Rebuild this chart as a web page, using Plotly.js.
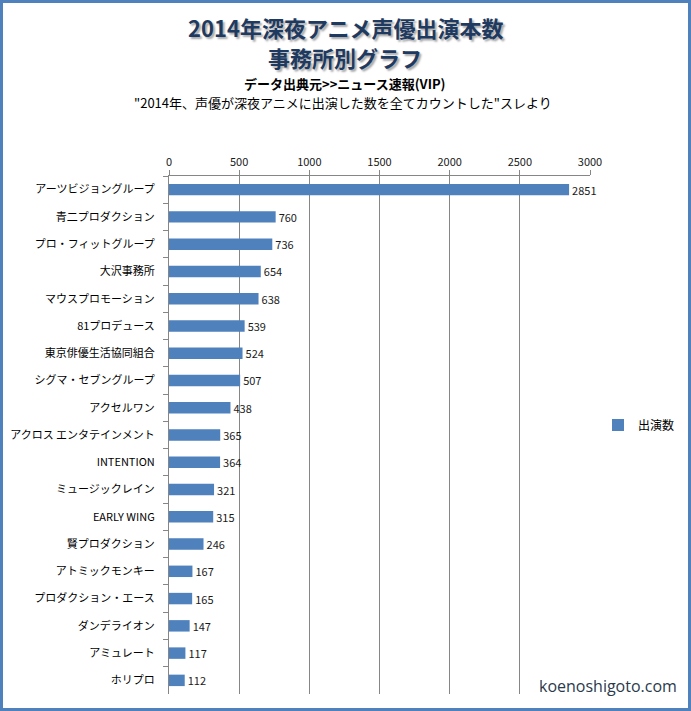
<!DOCTYPE html>
<html><head><meta charset="utf-8">
<script src="https://cdn.plot.ly/plotly-3.0.1.min.js"></script>
<style>
html,body{margin:0;padding:0;background:#fff;}
#wrap{position:relative;width:691px;height:711px;}
#chart{position:absolute;left:0;top:0;width:691px;height:711px;}
#frame{position:absolute;left:0;top:0;width:691px;height:711px;box-sizing:border-box;border:3px solid #4F81BD;pointer-events:none;}
</style></head>
<body>
<div id="wrap"><div id="chart"></div><div id="frame"></div></div>
<script>
const categories = ["アーツビジョングループ","青二プロダクション","プロ・フィットグループ","大沢事務所","マウスプロモーション","81プロデュース","東京俳優生活協同組合","シグマ・セブングループ","アクセルワン","アクロス エンタテインメント","INTENTION","ミュージックレイン","EARLY WING","賢プロダクション","アトミックモンキー","プロダクション・エース","ダンデライオン","アミュレート","ホリプロ"];
const counts = [2851,760,736,654,638,539,524,507,438,365,364,321,315,246,167,165,147,117,112];
const seriesName = "出演数";
const xTicks = [0,500,1000,1500,2000,2500,3000];

const jp = '"Noto Sans CJK JP", "Noto Sans", sans-serif';
const trace = {
  type: 'bar', orientation: 'h', name: seriesName,
  x: counts, y: categories,
  marker: {color: '#4F81BD'},
  width: 0.42,
  text: counts.map(String), textposition: 'outside', cliponaxis: false,
  constraintext: 'none',
  textfont: {family: jp, size: 11, color: '#1a1a1a'},
  showlegend: true, hoverinfo: 'none'
};
const L=169, R=590, T=176, B=694;
const W=691, H=711;
const pw=R-L, ph=B-T;
const px = x => (x-L)/pw;
const py = y => (B-y)/ph;
const layout = {
  width: W, height: H,
  margin: {l: L, r: W-R, t: T, b: H-B, pad: 0, autoexpand: false},
  paper_bgcolor: '#fff', plot_bgcolor: '#fff',
  font: {family: jp, color: '#000'},
  bargap: 0.5,
  xaxis: {
    side: 'top', range: [0, 3000], tickvals: xTicks, ticktext: xTicks.map(String),
    showgrid: true, gridcolor: '#868686', gridwidth: 1,
    showline: true, linecolor: '#868686', linewidth: 1,
    ticks: 'outside', ticklen: 5, tickcolor: '#868686',
    tickfont: {family: jp, size: 11, color: '#1a1a1a'},
    zeroline: false, fixedrange: true, automargin: false
  },
  yaxis: {
    autorange: 'reversed', type: 'category',
    showline: true, linecolor: '#868686', linewidth: 1,
    ticks: 'outside', ticklen: 5, tickcolor: '#868686', tickson: 'boundaries',
    ticklabelstandoff: 11,
    tickfont: {family: jp, size: 11, color: '#000'},
    showgrid: false, zeroline: false, fixedrange: true, automargin: false
  },
  legend: {
    xref: 'container', yref: 'container',
    x: 598/W, y: 1-425/H, xanchor: 'left', yanchor: 'middle',
    font: {family: jp, size: 12, color: '#000'},
    itemwidth: 30, bgcolor: 'rgba(0,0,0,0)', tracegroupgap: 0
  },
  annotations: [
    {text: '<b>2014年深夜アニメ声優出演本数</b>', xref:'paper', yref:'paper', x: px(345), y: py(27), showarrow:false, xanchor:'center', yanchor:'middle',
      font:{family: jp, size: 22, color:'#1F3A60', shadow:'2px 2px 2px rgba(0,0,0,0.35)'}},
    {text: '<b>事務所別グラフ</b>', xref:'paper', yref:'paper', x: px(345), y: py(57), showarrow:false, xanchor:'center', yanchor:'middle',
      font:{family: jp, size: 22, color:'#1F3A60', shadow:'2px 2px 2px rgba(0,0,0,0.35)'}},
    {text: '<b>データ出典元>>ニュース速報(VIP)</b>', xref:'paper', yref:'paper', x: px(345), y: py(83), showarrow:false, xanchor:'center', yanchor:'middle',
      font:{family: jp, size: 13, color:'#000'}},
    {text: '"2014年、声優が深夜アニメに出演した数を全てカウントした"スレより', xref:'paper', yref:'paper', x: px(343), y: py(102), showarrow:false, xanchor:'center', yanchor:'middle',
      font:{family: jp, size: 13, color:'#000'}},
    {text: 'koenoshigoto.com', xref:'paper', yref:'paper', x: px(608), y: py(686), showarrow:false, xanchor:'center', yanchor:'middle',
      font:{family: '"Open Sans", sans-serif', size: 16, color:'#2A3A4C'}}
  ]
};
Plotly.newPlot('chart', [trace], layout, {displayModeBar: false, staticPlot: true});
</script>
</body></html>
